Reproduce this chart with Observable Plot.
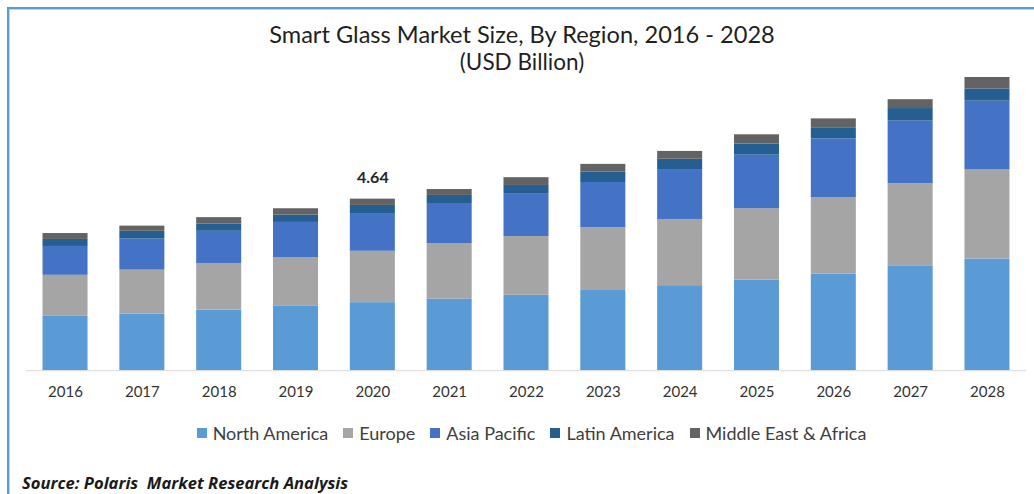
<!DOCTYPE html>
<html>
<head>
<meta charset="utf-8">
<script src="https://cdn.jsdelivr.net/npm/d3@7"></script>
<script src="https://cdn.jsdelivr.net/npm/@observablehq/plot@0.6"></script>
<style>
  html, body { margin: 0; padding: 0; background: #fff; }
  body { width: 1034px; height: 494px; overflow: hidden; position: relative; font-family: Lato, "Open Sans", sans-serif; }
  #frame { position: absolute; left: 7px; top: 7px; width: 1100px; height: 600px; border-top: 2px solid #5b9bd5; border-left: 2px solid #5b9bd5; box-shadow: inset 1px 1px 0 #bcd5ee; }
  #title { position: absolute; left: 10px; top: 19px; width: 1024px; text-align: center; font-size: 23.6px; line-height: 30px; color: #1f1f1f; }
  #subtitle { position: absolute; left: 10px; top: 49px; width: 1024px; text-align: center; font-size: 22.5px; line-height: 26px; color: #1f1f1f; }
  #chart { position: absolute; left: 0; top: 70px; }
  #legend { position: absolute; left: 0; top: 422px; width: 1034px; display: flex; justify-content: center; gap: 15px; padding-left: 29px; box-sizing: border-box; font-size: 18px; line-height: 22px; color: #404040; }
  .item { display: flex; align-items: center; }
  .sw { width: 10px; height: 10px; margin-right: 6px; }
  #source { position: absolute; left: 22px; top: 472px; font-family: "Open Sans", sans-serif; font-size: 16.6px; line-height: 22px; font-weight: bold; font-style: italic; color: #1a1a1a; white-space: pre; }
</style>
</head>
<body>
<div id="frame"></div>
<div id="title">Smart Glass Market Size, By Region, 2016 - 2028</div>
<div id="subtitle">(USD Billion)</div>
<div id="chart"></div>
<div id="legend"></div>
<div id="source">Source: Polaris  Market Research Analysis</div>
<script>
const years = ["2016","2017","2018","2019","2020","2021","2022","2023","2024","2025","2026","2027","2028"];
const regions = ["North America","Europe","Asia Pacific","Latin America","Middle East & Africa"];
const colors = ["#5b9bd5","#a5a5a5","#4472c4","#255e91","#636363"];
const northAmerica = [1.47,1.53,1.64,1.74,1.84,1.94,2.04,2.17,2.30,2.45,2.61,2.82,3.02];
const europe       = [1.11,1.19,1.26,1.32,1.39,1.49,1.59,1.70,1.79,1.93,2.07,2.24,2.41];
const asiaPacific  = [0.78,0.84,0.87,0.95,1.02,1.07,1.16,1.22,1.35,1.45,1.59,1.69,1.86];
const latinAmerica = [0.19,0.21,0.20,0.20,0.22,0.24,0.22,0.28,0.28,0.30,0.30,0.34,0.33];
const mea          = [0.16,0.14,0.17,0.17,0.17,0.16,0.21,0.21,0.21,0.25,0.24,0.24,0.31];
const labelYear = "2020";
const labelValue = 4.64;

const series = [northAmerica, europe, asiaPacific, latinAmerica, mea];
const data = [];
regions.forEach((r, i) => years.forEach((y, j) => data.push({year: y, region: r, value: series[i][j]})));
const labelData = [{year: labelYear, total: labelValue}];

const chart = Plot.plot({
  width: 1034,
  height: 330,
  marginTop: 4.4,
  marginBottom: 29.8,
  marginLeft: 26,
  marginRight: 8,
  style: {fontFamily: "Lato, 'Open Sans', sans-serif", fontSize: "15px", color: "#333333", background: "transparent"},
  x: {type: "band", domain: years, round: false, paddingInner: 0.414, paddingOuter: 0.215, label: null, tickSize: 0, tickPadding: 16},
  y: {domain: [0, 8], axis: null},
  color: {domain: regions, range: colors},
  marks: [
    Plot.barY(data, {x: "year", y: "value", fill: "region"}),
    Plot.ruleY([0], {stroke: "#d9d9d9", strokeWidth: 1}),
    Plot.text(labelData, {x: "year", y: "total", dy: -21, text: d => d.total.toFixed(2), fontWeight: "bold", fontSize: 16, fill: "#262626"})
  ]
});
document.getElementById("chart").appendChild(chart);

const legend = document.getElementById("legend");
regions.forEach((r, i) => {
  const it = document.createElement("div");
  it.className = "item";
  const sw = document.createElement("span");
  sw.className = "sw";
  sw.style.background = colors[i];
  const t = document.createElement("span");
  t.textContent = r;
  it.appendChild(sw); it.appendChild(t);
  legend.appendChild(it);
});
</script>
</body>
</html>
